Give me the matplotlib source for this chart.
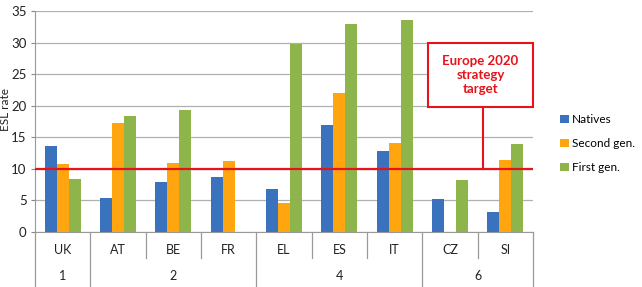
import matplotlib.pyplot as plt
import matplotlib.transforms as mtransforms
from matplotlib.patches import Rectangle
import numpy as np

plt.rcParams['font.family'] = ['Lato', 'DejaVu Sans']

countries = ['UK', 'AT', 'BE', 'FR', 'EL', 'ES', 'IT', 'CZ', 'SI']
groups = ['1', '2', '4', '6']
group_sizes = [1, 3, 3, 2]
natives = [13.6, 5.4, 7.9, 8.7, 6.8, 17.0, 12.8, 5.2, 3.2]
second_gen = [10.7, 17.3, 11.0, 11.3, 4.6, 22.0, 14.1, np.nan, 11.4]
first_gen = [8.4, 18.3, 19.3, np.nan, 29.8, 33.0, 33.6, 8.2, 13.9]
target = 10
series_names = ['Natives', 'Second gen.', 'First gen.']
colors = ['#3A72BE', '#FFA50F', '#8DB54C']

fig = plt.figure(figsize=(6.42, 2.87), dpi=100)
ax = fig.add_axes([35 / 642, 55 / 287, 498 / 642, 221 / 287])

x = np.arange(len(countries))
w = 0.215
handles = []
for i, (vals, c) in enumerate(zip([natives, second_gen, first_gen], colors)):
    b = ax.bar(x + (i - 1) * w, vals, w, color=c, zorder=3, label=series_names[i])
    handles.append(b)

ax.set_xlim(-0.5, len(countries) - 0.5)
ax.set_ylim(0, 35)
ax.set_yticks(range(0, 36, 5))
ax.tick_params(axis='y', labelsize=9.5, length=3, color='#888888', labelcolor='#222222', pad=3)
ax.set_xticks([])
ax.grid(axis='y', color='#b0b0b0', lw=0.9, zorder=0)
for s in ['top', 'right']:
    ax.spines[s].set_visible(False)
for s in ['left', 'bottom']:
    ax.spines[s].set_color('#999999')

# target line
ax.axhline(target, color='#E8121B', lw=1.6, zorder=4)

# multi-level x axis
trans = mtransforms.blended_transform_factory(ax.transData, ax.transAxes)
bounds = np.concatenate([[0], np.cumsum(group_sizes)]) - 0.5
for xb in bounds:
    ax.plot([xb, xb], [0, -0.25], transform=trans, color='#999999', lw=0.9, clip_on=False)
for i in range(len(countries) - 1):
    xb = i + 0.5
    if xb not in bounds:
        ax.plot([xb, xb], [0, -0.118], transform=trans, color='#999999', lw=0.9, clip_on=False)
for i, c in enumerate(countries):
    ax.text(i, -0.082, c, transform=trans, ha='center', va='center', fontsize=9, color='#222222')
for g, a, b in zip(groups, bounds[:-1], bounds[1:]):
    ax.text((a + b) / 2, -0.2, g, transform=trans, ha='center', va='center', fontsize=9, color='#222222')

# annotation box
ax.add_patch(Rectangle((6.6, 19.8), 1.9, 10.15, fill=True, facecolor='white',
                       edgecolor='#E8121B', lw=1.5, zorder=5, clip_on=False))
ax.plot([7.6, 7.6], [target, 19.8], color='#E8121B', lw=1.5, zorder=5)
ax.text(7.55, 24.9, 'Europe 2020\nstrategy\ntarget', ha='center', va='center', color='#E8121B',
        fontsize=9.5, fontweight='bold', linespacing=1.2, zorder=6)

fig.text(0.009, 0.62, 'ESL rate', rotation=90, ha='center', va='center', fontsize=8.5, color='#222222')

fig.legend(handles=handles, loc='center left', bbox_to_anchor=(0.86, 0.5), frameon=False,
           fontsize=8.5, handlelength=0.7, handleheight=0.7, handletextpad=0.3, labelspacing=1.1,
           borderpad=0.2)

fig.savefig('out.png', dpi=100)
